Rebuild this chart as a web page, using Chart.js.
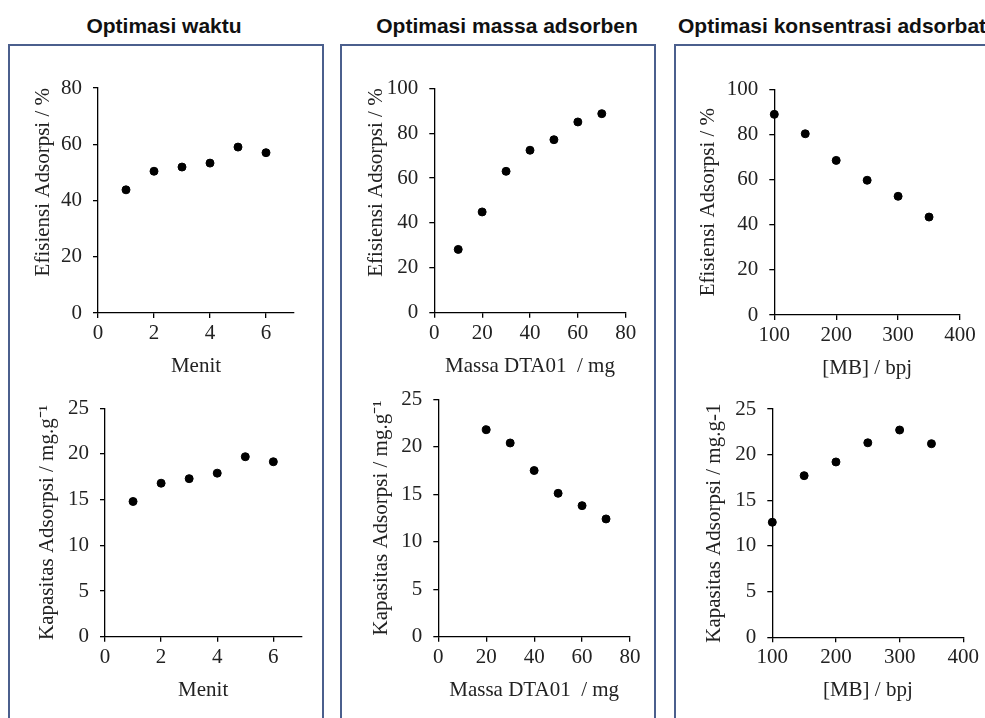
<!DOCTYPE html>
<html lang="id">
<head>
  <meta charset="UTF-8">
  <title>Optimasi adsorpsi</title>
  <script src="https://cdn.jsdelivr.net/npm/chart.js"></script>
  <style>
    body { margin: 0; width: 985px; height: 718px; overflow: hidden; background: #fff; position: relative; }
    .panel { position: absolute; top: 44px; height: 720px; box-sizing: border-box; border: 2px solid #4b5f8d; }
    .head { position: absolute; top: 15px; font: bold 21px 'Liberation Sans', Arial, sans-serif; line-height: 21px; color: #111; white-space: nowrap; }
    canvas { position: absolute; }
  </style>
</head>
<body>
  <div class="panel" style="left: 8px; width: 316px;"></div>
  <div class="panel" style="left: 340px; width: 316px;"></div>
  <div class="panel" style="left: 674px; width: 400px;"></div>

  <div class="head" style="left: 164px; transform: translateX(-50%);">Optimasi waktu</div>
  <div class="head" style="left: 507px; transform: translateX(-50%);">Optimasi massa adsorben</div>
  <div class="head" style="left: 678px;">Optimasi konsentrasi adsorbat</div>

  <canvas id="waktu-efisiensi"></canvas>
  <canvas id="waktu-kapasitas"></canvas>
  <canvas id="massa-efisiensi"></canvas>
  <canvas id="massa-kapasitas"></canvas>
  <canvas id="kons-efisiensi"></canvas>
  <canvas id="kons-kapasitas"></canvas>

  <script>
    // data
    const waktuMenit = [1, 2, 3, 4, 5, 6];
    const waktuEfisiensi = [43.8, 50.4, 51.9, 53.3, 59.0, 57.0];
    const waktuKapasitas = [14.8, 16.8, 17.3, 17.9, 19.7, 19.15];

    const massaEfMg = [10, 20, 30, 40, 50, 60, 70];
    const massaEfisiensi = [28.2, 44.9, 63.0, 72.4, 77.1, 85.0, 88.7];
    const massaKapMg = [20, 30, 40, 50, 60, 70];
    const massaKapasitas = [21.8, 20.4, 17.5, 15.1, 13.8, 12.4];

    const konsMB = [100, 150, 200, 250, 300, 350];
    const konsEfisiensi = [88.9, 80.3, 68.5, 59.7, 52.6, 43.4];
    const konsKapasitas = [12.6, 17.7, 19.2, 21.3, 22.7, 21.2];

    // axis ranges and tick labels
    const menitRange = [0, 7];
    const menitTicks = [0, 2, 4, 6];
    const massaRange = [0, 80];
    const massaTicks = [0, 20, 40, 60, 80];
    const mbRange = [100, 400];
    const mbTicks = [100, 200, 300, 400];
    const efisiensi80Ticks = [0, 20, 40, 60, 80];
    const efisiensi100Ticks = [0, 20, 40, 60, 80, 100];
    const kapasitasTicks = [0, 5, 10, 15, 20, 25];

    const SERIF = "'Liberation Serif', 'Times New Roman', serif";
    const TICK_FONT = { family: SERIF, size: 21 };
    const TITLE_FONT = { family: SERIF, size: 21 };
    const XH = 66;

    // area = where the plot area must sit on the page, titleX = centre of the y title
    function makeChart(id, area, titleX, xs, ys, xRange, xTicks, yTicks, xTitle, yTitle, yAlign) {
      const yW = area.L - titleX + TITLE_FONT.size * 1.2 / 2;
      const cx = Math.floor(area.L - yW - 10);
      const cy = Math.floor(area.T - 25);
      const cw = Math.ceil(area.R + 25 - cx);
      const ch = Math.ceil(area.B + XH + 5 - cy);
      const canvas = document.getElementById(id);
      canvas.width = cw;
      canvas.height = ch;
      canvas.style.left = cx + 'px';
      canvas.style.top = cy + 'px';

      const axisGrid = { drawOnChartArea: false, tickLength: 5, color: '#000', lineWidth: 1.3 };
      const axisBorder = { color: '#000', width: 1.3 };

      new Chart(canvas, {
        type: 'scatter',
        data: {
          datasets: [{
            data: xs.map((x, i) => ({ x: x, y: ys[i] })),
            backgroundColor: '#000',
            borderColor: '#000',
            pointRadius: 4,
            pointHoverRadius: 4,
            clip: false
          }]
        },
        options: {
          responsive: false,
          animation: false,
          layout: {
            padding: {
              left: area.L - yW - cx,
              top: area.T - cy,
              right: cx + cw - area.R,
              bottom: cy + ch - area.B - XH
            }
          },
          plugins: { legend: { display: false }, tooltip: { enabled: false } },
          scales: {
            x: {
              type: 'linear',
              min: xRange[0],
              max: xRange[1],
              afterBuildTicks: s => { s.ticks = xTicks.map(v => ({ value: v })); },
              afterFit: s => { s.height = XH; },
              grid: axisGrid,
              border: axisBorder,
              ticks: { font: TICK_FONT, color: '#222', padding: 3, maxRotation: 0, autoSkip: false },
              title: { display: true, text: xTitle, font: TITLE_FONT, color: '#222', padding: 0 }
            },
            y: {
              type: 'linear',
              min: yTicks[0],
              max: yTicks[yTicks.length - 1],
              afterBuildTicks: s => { s.ticks = yTicks.map(v => ({ value: v })); },
              afterFit: s => { s.width = yW; },
              grid: axisGrid,
              border: axisBorder,
              ticks: { font: TICK_FONT, color: '#222', padding: 11, autoSkip: false },
              title: { display: true, text: yTitle, font: TITLE_FONT, color: '#222', padding: 0, align: yAlign }
            }
          }
        }
      });
    }

    makeChart('waktu-efisiensi', { L: 98, T: 88, R: 294, B: 313 }, 43,
      waktuMenit, waktuEfisiensi, menitRange, menitTicks, efisiensi80Ticks,
      'Menit', 'Efisiensi Adsorpsi / %', 'end');
    makeChart('waktu-kapasitas', { L: 105, T: 408.3, R: 301.4, B: 636.7 }, 47.5,
      waktuMenit, waktuKapasitas, menitRange, menitTicks, kapasitasTicks,
      'Menit', 'Kapasitas Adsorpsi / mg.g\u207B\u00B9', 'center');

    makeChart('massa-efisiensi', { L: 434.3, T: 88.3, R: 625.7, B: 312.7 }, 376,
      massaEfMg, massaEfisiensi, massaRange, massaTicks, efisiensi100Ticks,
      'Massa DTA01  / mg', 'Efisiensi Adsorpsi / %', 'end');
    makeChart('massa-kapasitas', { L: 438.3, T: 399.3, R: 630, B: 636.7 }, 381.7,
      massaKapMg, massaKapasitas, massaRange, massaTicks, kapasitasTicks,
      'Massa DTA01  / mg', 'Kapasitas Adsorpsi / mg.g\u207B\u00B9', 'center');

    makeChart('kons-efisiensi', { L: 774.3, T: 89.3, R: 960, B: 315 }, 708.5,
      konsMB, konsEfisiensi, mbRange, mbTicks, efisiensi100Ticks,
      '[MB] / bpj', 'Efisiensi Adsorpsi / %', 'center');
    makeChart('kons-kapasitas', { L: 772.3, T: 409, R: 963.3, B: 637.3 }, 714.5,
      konsMB, konsKapasitas, mbRange, mbTicks, kapasitasTicks,
      '[MB] / bpj', 'Kapasitas Adsorpsi / mg.g-1', 'center');
  </script>
</body>
</html>
